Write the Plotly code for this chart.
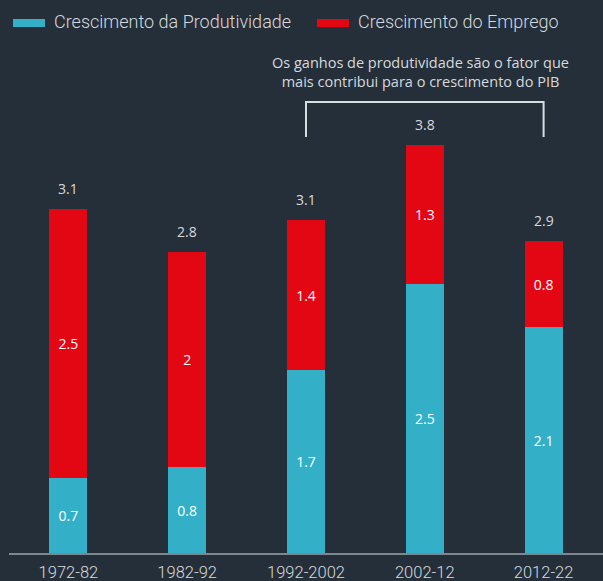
import plotly.graph_objects as go

periods = ["1972-82", "1982-92", "1992-2002", "2002-12", "2012-22"]
productivity = [0.7, 0.8, 1.7, 2.5, 2.1]
employment = [2.5, 2.0, 1.4, 1.3, 0.8]
totals = [3.1, 2.8, 3.1, 3.8, 2.9]
legend_names = ["Crescimento da Produtividade", "Crescimento do Emprego"]
note_text = "Os ganhos de produtividade são o fator que<br>mais contribui para o crescimento do PIB"

BG = "#252f3a"
CYAN = "#33b0c8"
RED = "#e30613"
TXT = "#d6dadd"
FONT = "Open Sans"
LFONT = "Roboto"

fig = go.Figure()
fig.add_trace(go.Bar(
    x=periods, y=productivity, name=legend_names[0], marker_color=CYAN,
    marker_line_width=0, width=0.32,
    text=[f"{v:g}" for v in productivity], textposition="inside",
    insidetextanchor="middle", textfont=dict(color="white", size=14, family=FONT),
    hoverinfo="skip"))
fig.add_trace(go.Bar(
    x=periods, y=employment, name=legend_names[1], marker_color=RED,
    marker_line_width=0, width=0.32,
    text=[f"{v:g}" for v in employment], textposition="inside",
    insidetextanchor="middle", textfont=dict(color="white", size=14, family=FONT),
    hoverinfo="skip"))

annotations = []
for p, e, t, lab in zip(productivity, employment, totals, periods):
    annotations.append(dict(xref="x", yref="y", x=lab, y=p + e, text=f"{t:g}",
                            showarrow=False, yanchor="bottom", yshift=9,
                            font=dict(color=TXT, size=14, family=FONT)))

# manual legend
shapes = [
    dict(type="rect", xref="paper", yref="paper", x0=4/594, x1=36/594,
         y0=(553-27)/495, y1=(553-19)/495, fillcolor=CYAN, line_width=0),
    dict(type="rect", xref="paper", yref="paper", x0=308/594, x1=340/594,
         y0=(553-27)/495, y1=(553-19)/495, fillcolor=RED, line_width=0),
    # bracket
    dict(type="path", xref="x", yref="y",
         path="M 2,3.87 L 2,4.195 L 4,4.195 L 4,3.87",
         line=dict(color="#d5dde1", width=2)),
]
annotations += [
    dict(xref="paper", yref="paper", x=43/594, y=(553-22)/495, text=legend_names[0],
         showarrow=False, xanchor="left", yanchor="middle",
         font=dict(color=TXT, size=18, family=LFONT, weight=300)),
    dict(xref="paper", yref="paper", x=347/594, y=(553-22)/495, text=legend_names[1],
         showarrow=False, xanchor="left", yanchor="middle",
         font=dict(color=TXT, size=18, family=LFONT, weight=300)),
    dict(xref="x", yref="paper", x=2.96, y=(553-72)/495, text=note_text,
         showarrow=False, xanchor="center", yanchor="middle", align="center",
         font=dict(color=TXT, size=14.5, family=FONT)),
]

fig.update_layout(
    width=603, height=581, barmode="stack", showlegend=False,
    paper_bgcolor=BG, plot_bgcolor=BG,
    margin=dict(l=9, r=0, t=58, b=28),
    shapes=shapes, annotations=annotations,
    xaxis=dict(type="category", showgrid=False, showline=True, linecolor="#7d8790",
               linewidth=2, ticks="outside", ticklen=3, tickcolor="rgba(0,0,0,0)",
               tickfont=dict(color=TXT, size=16.5, family=LFONT, weight=300),
               range=[-0.5, 4.5], fixedrange=True),
    yaxis=dict(visible=False, range=[0, 4.605], fixedrange=True),
)
fig.write_html("out.html", config={"displayModeBar": False},
               post_script="document.body.style.margin='0px';document.body.style.background='%s';" % BG)
